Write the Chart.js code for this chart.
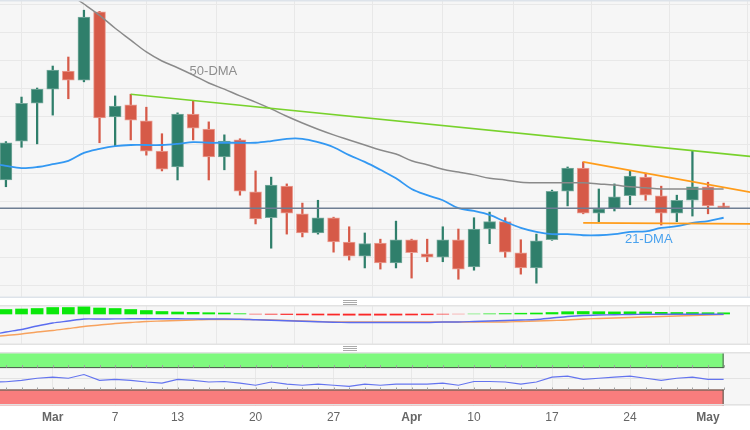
<!DOCTYPE html>
<html lang="en">
<head>
<meta charset="UTF-8">
<title>Daily chart - DMA, MACD, RSI</title>
<style>
  body { margin: 0; background: #fff; font-family: "Liberation Sans", Arial, sans-serif; }
  .wrap { position: relative; width: 750px; height: 430px; overflow: hidden; }
  canvas { position: absolute; left: 0; }
  #mainChart { top: 0; }
  #macdChart { top: 305px; }
  #rsiChart { top: 352px; }
  .grip { position: absolute; left: 343px; width: 14px; height: 3px; border-top: 1px solid #aaa; border-bottom: 1px solid #aaa; }
  .grip::after { content: ""; position: absolute; left: 0; right: 0; top: 1px; border-top: 1px solid #aaa; }
</style>
</head>
<body>
<div class="wrap">
  <canvas id="mainChart" width="750" height="298"></canvas>
  <div class="grip" style="top:300px"></div>
  <canvas id="macdChart" width="750" height="40"></canvas>
  <div class="grip" style="top:346px"></div>
  <canvas id="rsiChart" width="750" height="78"></canvas>
</div>
<script src="https://cdn.jsdelivr.net/npm/chart.js"></script>
<script>
  // trading days shown (Good Friday missing)
  const dates = [
    'Feb 24', 'Feb 27', 'Feb 28',
    'Mar 1', 'Mar 2', 'Mar 3',
    'Mar 6', 'Mar 7', 'Mar 8', 'Mar 9', 'Mar 10',
    'Mar 13', 'Mar 14', 'Mar 15', 'Mar 16', 'Mar 17',
    'Mar 20', 'Mar 21', 'Mar 22', 'Mar 23', 'Mar 24',
    'Mar 27', 'Mar 28', 'Mar 29', 'Mar 30', 'Mar 31',
    'Apr 3', 'Apr 4', 'Apr 5', 'Apr 6',
    'Apr 10', 'Apr 11', 'Apr 12', 'Apr 13', 'Apr 14',
    'Apr 17', 'Apr 18', 'Apr 19', 'Apr 20', 'Apr 21',
    'Apr 24', 'Apr 25', 'Apr 26', 'Apr 27', 'Apr 28',
    'May 1', 'May 2'
  ];
  const prevDate = 'Feb 23';            // first value of the indicator series
  const futureDates = ['May 3', 'May 4'];

  const openP  = [131.88, 132.57, 133.24, 133.49, 133.81, 133.65, 134.86, 133.00, 133.21, 132.93, 132.39, 132.11, 133.05, 132.78, 132.29, 132.59, 131.67, 131.21, 131.77, 131.28, 130.94, 131.21, 130.78, 130.53, 130.76, 130.41, 130.82, 130.57, 130.51, 130.82, 130.34, 131.01, 131.14, 130.59, 130.32, 130.82, 131.68, 132.09, 131.29, 131.37, 131.60, 131.93, 131.60, 131.29, 131.52, 131.76, 131.42];
  const highP  = [132.56, 133.35, 133.51, 133.90, 134.06, 134.89, 134.87, 133.37, 133.40, 133.17, 132.70, 133.07, 133.28, 132.91, 132.68, 132.61, 132.04, 131.93, 131.81, 131.47, 131.52, 131.22, 131.05, 130.94, 130.83, 131.15, 130.83, 130.83, 131.05, 131.01, 131.21, 131.31, 131.21, 130.82, 130.92, 131.70, 132.11, 132.20, 131.72, 131.81, 132.04, 132.00, 131.77, 131.61, 132.39, 131.84, 131.47];
  const lowP   = [131.76, 132.46, 132.52, 133.03, 133.32, 133.62, 132.54, 132.48, 132.59, 132.32, 132.04, 131.88, 132.59, 131.88, 132.06, 131.61, 131.10, 130.67, 130.92, 130.87, 130.92, 130.60, 130.46, 130.32, 130.30, 130.32, 130.14, 130.43, 130.43, 130.12, 130.28, 130.75, 130.51, 130.21, 130.05, 130.81, 131.42, 131.28, 131.14, 131.33, 131.44, 131.52, 131.08, 131.14, 131.24, 131.28, 131.37];
  const closeP = [132.54, 133.24, 133.49, 133.83, 133.65, 134.77, 132.98, 133.19, 132.94, 132.39, 132.07, 133.05, 132.80, 132.29, 132.57, 131.68, 131.19, 131.79, 131.29, 130.94, 131.21, 130.78, 130.53, 130.75, 130.41, 130.82, 130.59, 130.51, 130.82, 130.30, 131.01, 131.14, 130.60, 130.32, 130.80, 131.68, 132.09, 131.29, 131.37, 131.58, 131.95, 131.61, 131.29, 131.52, 131.76, 131.42, 131.38];

  // moving averages, from prevDate onwards
  const ma50 = [136.40, 136.14, 135.87, 135.62, 135.39, 135.19, 135.00, 134.80, 134.57, 134.36, 134.15, 133.99, 133.87, 133.74, 133.60, 133.49, 133.37, 133.26, 133.14, 133.01, 132.89, 132.78, 132.68, 132.59, 132.50, 132.41, 132.34, 132.22, 132.15, 132.07, 132.02, 131.97, 131.91, 131.88, 131.84, 131.83, 131.83, 131.83, 131.83, 131.81, 131.79, 131.76, 131.74, 131.72, 131.72, 131.72, 131.72, 131.72];
  const ma21 = [132.18, 132.13, 132.09, 132.11, 132.16, 132.22, 132.36, 132.43, 132.48, 132.50, 132.50, 132.50, 132.52, 132.55, 132.54, 132.54, 132.54, 132.54, 132.57, 132.61, 132.61, 132.55, 132.46, 132.32, 132.20, 132.06, 131.91, 131.72, 131.61, 131.52, 131.38, 131.33, 131.26, 131.14, 131.03, 130.96, 130.92, 130.92, 130.90, 130.90, 130.92, 130.96, 130.97, 131.03, 131.06, 131.12, 131.15, 131.21];

  // trend lines [date, price]
  const resistanceLine = [['Mar 8', 133.40], ['May 4', 132.29]];
  const triangleTop    = [['Apr 19', 132.20], ['May 4', 131.65]];
  const triangleBottom = [['Apr 19', 131.12], ['May 4', 131.10]];

  // MACD, from prevDate onwards (histogram from first candle)
  const macdLine   = [-0.21, -0.18, -0.155, -0.12, -0.09, -0.07, -0.05, -0.05, -0.049, -0.048, -0.048, -0.048, -0.048, -0.049, -0.05, -0.05, -0.052, -0.058, -0.063, -0.068, -0.072, -0.077, -0.082, -0.085, -0.085, -0.085, -0.085, -0.085, -0.085, -0.08, -0.08, -0.075, -0.07, -0.065, -0.06, -0.055, -0.04, -0.025, -0.015, -0.01, -0.007, -0.005, -0.003, -0.002, -0.002, -0.002, -0.002, -0.002];
  const signalLine = [-0.23, -0.215, -0.20, -0.18, -0.165, -0.145, -0.125, -0.11, -0.095, -0.085, -0.075, -0.07, -0.065, -0.06, -0.055, -0.055, -0.055, -0.056, -0.06, -0.065, -0.07, -0.075, -0.08, -0.08, -0.08, -0.08, -0.08, -0.08, -0.08, -0.08, -0.08, -0.08, -0.08, -0.08, -0.075, -0.07, -0.065, -0.06, -0.05, -0.045, -0.04, -0.035, -0.03, -0.025, -0.02, -0.015, -0.01, -0.005];
  const macdHist   = [0.045, 0.05, 0.055, 0.065, 0.065, 0.075, 0.06, 0.055, 0.045, 0.035, 0.025, 0.02, 0.017, 0.013, 0.01, 0.005, -0.003, -0.005, -0.007, -0.009, -0.01, -0.011, -0.012, -0.012, -0.012, -0.011, -0.01, -0.008, -0.004, -0.001, 0.002, 0.004, 0.006, 0.008, 0.01, 0.015, 0.023, 0.025, 0.023, 0.021, 0.022, 0.02, 0.017, 0.015, 0.015, 0.013, 0.012];

  // RSI, from prevDate onwards
  const rsi = [44, 44.5, 47, 51, 53, 51, 58, 47, 49, 47, 44, 42, 49, 47, 44, 45, 42, 38, 44, 40, 38, 40, 38, 36, 40, 38, 40, 40, 40, 42, 38, 45, 45, 44, 40, 44, 53, 55, 49, 51, 53, 55, 51, 47, 51, 53, 49, 49];
  const rsiOverbought = [70, 100];
  const rsiOversold = [0, 30];

  const tickDates  = ['Mar 1', 'Mar 7', 'Mar 13', 'Mar 20', 'Mar 27', 'Apr 3', 'Apr 10', 'Apr 17', 'Apr 24', 'May 1'];
  const tickLabels = ['Mar', '7', '13', '20', '27', 'Apr', '10', '17', '24', 'May'];
  const priceGrid  = [130, 130.5, 131, 131.5, 132, 132.5, 133, 133.5, 134, 134.5, 135];

  // ---------- helpers ----------
  const allDates = [prevDate].concat(dates, futureDates);
  const idx = d => allDates.indexOf(d) - 1;          // Feb 24 -> 0
  const tickIdx = tickDates.map(idx);
  const lastPrice = closeP[closeP.length - 1];
  const withPrev = arr => arr.map((v, i) => ({ x: i - 1, y: v }));
  const trend = pts => pts.map(p => ({ x: idx(p[0]), y: p[1] }));

  const UP = '#2f7f6b', DOWN = '#d65a48';
  const UP_EDGE = '#79ab9e', DOWN_EDGE = '#eba095';
  const isUp = i => closeP[i] >= openP[i];

  Chart.defaults.font.family = '"Liberation Sans", Arial, sans-serif';
  Chart.defaults.animation = false;
  Chart.defaults.plugins.legend.display = false;
  Chart.defaults.plugins.tooltip.enabled = false;

  const X_MIN = -0.38, X_MAX = 47.69;

  function xAxis(labels) {
    return {
      type: 'linear', min: X_MIN, max: X_MAX, offset: false,
      afterBuildTicks: s => { s.ticks = tickIdx.map(v => ({ value: v })); },
      grid: { color: '#e8e8e8', drawTicks: false },
      border: { display: false },
      ticks: labels ? {
        autoSkip: false, maxRotation: 0, padding: 5, color: '#666',
        font: c => ({ size: 12, weight: /[A-Za-z]/.test(tickLabels[c.index] || '') ? 'bold' : 'normal' }),
        callback: (v, i) => tickLabels[i]
      } : { display: false }
    };
  }

  const panelBg = {
    id: 'panelBg',
    beforeDraw(chart) {
      const { ctx, chartArea: a } = chart;
      ctx.save();
      ctx.fillStyle = '#f6f6f6';
      ctx.fillRect(a.left, a.top, a.width, a.height);
      ctx.restore();
    },
    afterDraw(chart, args, opts) {
      const { ctx, chartArea: a } = chart;
      ctx.save();
      ctx.strokeStyle = opts.edge || '#dde3ea';
      ctx.lineWidth = 1.5;
      ctx.beginPath();
      ctx.moveTo(a.left, a.top + 0.75); ctx.lineTo(a.right, a.top + 0.75);
      ctx.moveTo(a.left, a.bottom - 0.75); ctx.lineTo(a.right, a.bottom - 0.75);
      ctx.stroke();
      ctx.restore();
    }
  };

  const priceLine = {
    id: 'priceLine',
    afterDatasetsDraw(chart) {
      const { ctx, chartArea: a, scales } = chart;
      const y = scales.y.getPixelForValue(lastPrice);
      ctx.save();
      ctx.strokeStyle = '#6e7e93';
      ctx.lineWidth = 1.5;
      ctx.beginPath();
      ctx.moveTo(a.left, y); ctx.lineTo(a.right, y);
      ctx.stroke();
      // DMA captions
      ctx.font = '13px "Liberation Sans", Arial, sans-serif';
      ctx.textAlign = 'center';
      ctx.textBaseline = 'middle';
      ctx.fillStyle = '#8d8d8d';
      ctx.fillText('50-DMA', scales.x.getPixelForValue(13.3), scales.y.getPixelForValue(133.81));
      ctx.fillStyle = '#4aa2ee';
      ctx.fillText('21-DMA', scales.x.getPixelForValue(41.2), scales.y.getPixelForValue(130.82));
      ctx.restore();
    }
  };

  new Chart(document.getElementById('mainChart'), {
    type: 'bar',
    data: {
      datasets: [
        {
          label: 'wicks',
          data: dates.map((d, i) => ({ x: i, y: [lowP[i], highP[i]] })),
          backgroundColor: c => isUp(c.dataIndex) ? UP : DOWN,
          barThickness: 1.6, grouped: false, order: 3
        },
        {
          label: 'bodies',
          data: dates.map((d, i) => ({ x: i, y: [openP[i], closeP[i]] })),
          backgroundColor: c => isUp(c.dataIndex) ? UP : DOWN,
          borderColor: c => isUp(c.dataIndex) ? UP_EDGE : DOWN_EDGE,
          borderWidth: 1, borderSkipped: false,
          barThickness: 12, minBarLength: 2, grouped: false, order: 2
        },
        {
          type: 'line', label: '50-DMA', data: withPrev(ma50),
          borderColor: '#8a8a8a', borderWidth: 1.5, pointRadius: 0, tension: 0.35, order: 1
        },
        {
          type: 'line', label: '21-DMA', data: withPrev(ma21),
          borderColor: '#3398f2', borderWidth: 1.8, pointRadius: 0, tension: 0.35, order: 1
        },
        {
          type: 'line', label: 'resistance', data: trend(resistanceLine),
          borderColor: '#78d22c', borderWidth: 1.6, pointRadius: 0, order: 0
        },
        {
          type: 'line', label: 'triangle top', data: trend(triangleTop),
          borderColor: '#ff9c1a', borderWidth: 1.8, pointRadius: 0, order: 0
        },
        {
          type: 'line', label: 'triangle bottom', data: trend(triangleBottom),
          borderColor: '#ff9c1a', borderWidth: 1.8, pointRadius: 0, order: 0
        }
      ]
    },
    options: {
      responsive: false,
      layout: { padding: 0 },
      scales: {
        x: xAxis(false),
        y: {
          min: 129.787, max: 135.071,
          afterBuildTicks: s => { s.ticks = priceGrid.map(v => ({ value: v })); },
          grid: { color: '#e8e8e8', drawTicks: false },
          border: { display: false },
          ticks: { display: false }
        }
      }
    },
    plugins: [panelBg, priceLine]
  });

  const histColor = v => {
    const a = Math.min(1, 0.3 + Math.abs(v) / 0.012);
    return v >= 0 ? `rgba(10,232,10,${a})` : `rgba(250,40,40,${a})`;
  };

  new Chart(document.getElementById('macdChart'), {
    type: 'bar',
    data: {
      datasets: [
        {
          label: 'histogram',
          data: dates.map((d, i) => ({ x: i, y: macdHist[i] })),
          backgroundColor: c => histColor(macdHist[c.dataIndex]),
          barThickness: 12, grouped: false, order: 2
        },
        {
          type: 'line', label: 'MACD', data: withPrev(macdLine),
          borderColor: '#5b6df0', borderWidth: 1.4, pointRadius: 0, tension: 0.3, order: 1
        },
        {
          type: 'line', label: 'signal', data: withPrev(signalLine),
          borderColor: '#f7a25e', borderWidth: 1.4, pointRadius: 0, tension: 0.3, order: 1
        }
      ]
    },
    options: {
      responsive: false,
      layout: { padding: 0 },
      scales: {
        x: xAxis(false),
        y: { min: -0.31, max: 0.09, display: false }
      },
      plugins: { panelBg: { edge: '#e2e2e2' } }
    },
    plugins: [panelBg]
  });

  const rsiZones = {
    id: 'rsiZones',
    beforeDatasetsDraw(chart) {
      const { ctx, chartArea: a, scales } = chart;
      const right = scales.x.getPixelForValue(dates.length - 1);
      const zone = (range, fill, edgeY) => {
        const y1 = scales.y.getPixelForValue(range[1]);
        const y0 = scales.y.getPixelForValue(range[0]);
        ctx.fillStyle = fill;
        ctx.fillRect(a.left, y1, right - a.left, y0 - y1);
        ctx.strokeStyle = '#4d5a4d';
        ctx.lineWidth = 1;
        ctx.beginPath();
        ctx.moveTo(a.left, edgeY); ctx.lineTo(right, edgeY);
        ctx.moveTo(right - 0.5, y1); ctx.lineTo(right - 0.5, y0);
        ctx.stroke();
        // small ticks along the zone edge
        ctx.strokeStyle = '#a0a0a0';
        ctx.beginPath();
        dates.forEach((d, i) => {
          const x = Math.round(scales.x.getPixelForValue(i)) + 0.5;
          const dir = edgeY === y0 ? 1 : -1;
          ctx.moveTo(x, edgeY); ctx.lineTo(x, edgeY + dir * 2.5);
        });
        ctx.stroke();
      };
      ctx.save();
      zone(rsiOverbought, '#7ef97e', scales.y.getPixelForValue(rsiOverbought[0]) - 0.5);
      zone(rsiOversold, '#f97d7d', scales.y.getPixelForValue(rsiOversold[1]) + 0.5);
      ctx.restore();
    }
  };

  new Chart(document.getElementById('rsiChart'), {
    type: 'line',
    data: {
      datasets: [{
        label: 'RSI', data: withPrev(rsi),
        borderColor: '#6474ef', borderWidth: 1.2, pointRadius: 0, tension: 0
      }]
    },
    options: {
      responsive: false,
      layout: { padding: 0 },
      scales: {
        x: xAxis(true),
        y: {
          min: 0, max: 100,
          afterBuildTicks: s => { s.ticks = [{ value: 50 }]; },
          grid: { color: '#e3e3e3', drawTicks: false },
          border: { display: false },
          ticks: { display: false }
        }
      },
      plugins: { panelBg: { edge: '#e2e2e2' } }
    },
    plugins: [panelBg, rsiZones]
  });
</script>
</body>
</html>
